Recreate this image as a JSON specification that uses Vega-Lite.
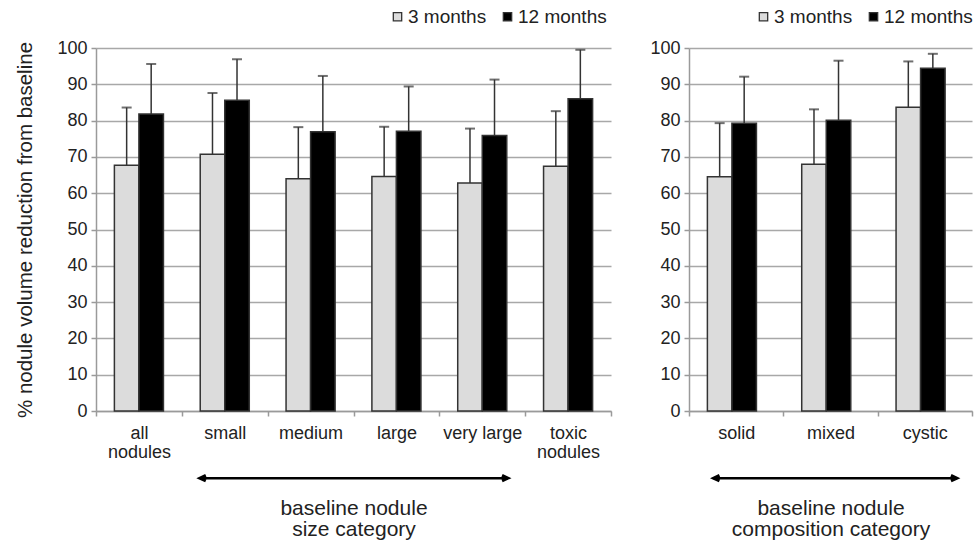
{
  "$schema": "https://vega.github.io/schema/vega-lite/v6.json",
  "background": "white",
  "padding": {"left": 15, "top": 7, "right": 2, "bottom": 4},
  "config": {
    "font": "Liberation Sans",
    "view": {"stroke": null},
    "axis": {
      "labelFont": "Liberation Sans", "titleFont": "Liberation Sans",
      "labelColor": "#222", "titleColor": "#222",
      "labelFontSize": 18, "titleFontSize": 20.5, "titleFontWeight": "normal",
      "domainColor": "#9a9a9a", "tickColor": "#9a9a9a", "gridColor": "#a8a8a8",
      "gridWidth": 1.5, "domainWidth": 1.5, "tickWidth": 1.5, "tickSize": 5
    },
    "legend": {
      "orient": "none", "direction": "horizontal", "symbolType": "square",
      "symbolSize": 70, "symbolStrokeColor": "#333", "symbolStrokeWidth": 1.3,
      "labelFontSize": 19, "labelColor": "#222", "labelFont": "Liberation Sans",
      "labelOffset": 1, "columnPadding": 11, "title": null
    }
  },
  "datasets": {
    "size": [
      {"category": "all nodules", "period": "3 months", "value": 67.7, "err": 83.6},
      {"category": "all nodules", "period": "12 months", "value": 81.8, "err": 95.6},
      {"category": "small", "period": "3 months", "value": 70.7, "err": 87.6},
      {"category": "small", "period": "12 months", "value": 85.6, "err": 96.9},
      {"category": "medium", "period": "3 months", "value": 64.0, "err": 78.2},
      {"category": "medium", "period": "12 months", "value": 76.9, "err": 92.3},
      {"category": "large", "period": "3 months", "value": 64.6, "err": 78.3},
      {"category": "large", "period": "12 months", "value": 77.1, "err": 89.4},
      {"category": "very large", "period": "3 months", "value": 62.8, "err": 77.8},
      {"category": "very large", "period": "12 months", "value": 75.9, "err": 91.3},
      {"category": "toxic nodules", "period": "3 months", "value": 67.4, "err": 82.6},
      {"category": "toxic nodules", "period": "12 months", "value": 86.0, "err": 99.5}
    ],
    "comp": [
      {"category": "solid", "period": "3 months", "value": 64.5, "err": 79.3},
      {"category": "solid", "period": "12 months", "value": 79.3, "err": 92.1},
      {"category": "mixed", "period": "3 months", "value": 68.0, "err": 83.1},
      {"category": "mixed", "period": "12 months", "value": 80.1, "err": 96.5},
      {"category": "cystic", "period": "3 months", "value": 83.7, "err": 96.3},
      {"category": "cystic", "period": "12 months", "value": 94.4, "err": 98.4}
    ],
    "sizeArrow": [{"from": "small", "to": "very large"}],
    "compArrow": [{"from": "solid", "to": "cystic"}]
  },
  "spacing": 37,
  "resolve": {"scale": {"color": "independent"}},
  "hconcat": [
    {
      "width": 515,
      "height": 363,
      "layer": [
        {
          "data": {"name": "size"},
          "mark": {"type": "bar", "stroke": "#333", "strokeWidth": 1.5},
          "encoding": {
            "x": {
              "field": "category", "type": "nominal",
              "scale": {"domain": ["all nodules", "small", "medium", "large", "very large", "toxic nodules"], "paddingInner": 0, "paddingOuter": 0},
              "axis": {
                "title": ["baseline nodule", "size category"],
                "titleFontSize": 21,
                "labelAngle": 0, "tickBand": "extent", "grid": false,
                "labelPadding": 8, "labelLineHeight": 19, "titlePadding": 36, "titleLineHeight": 21,
                "labelExpr": "datum.label == 'all nodules' ? ['all', 'nodules'] : datum.label == 'toxic nodules' ? ['toxic', 'nodules'] : datum.label"
              }
            },
            "xOffset": {"field": "period", "type": "nominal", "scale": {"domain": ["3 months", "12 months"], "paddingInner": 0, "paddingOuter": 0.75}},
            "y": {
              "field": "value", "type": "quantitative",
              "scale": {"domain": [0, 100], "nice": false},
              "axis": {"title": "% nodule volume reduction from baseline", "tickCount": 20, "values": [0, 10, 20, 30, 40, 50, 60, 70, 80, 90, 100], "labelOverlap": false, "labelPadding": 4, "titlePadding": 21}
            },
            "color": {
              "field": "period", "type": "nominal",
              "scale": {"domain": ["3 months", "12 months"], "range": ["#dcdcdc", "#000000"]},
              "legend": {"legendX": 292, "legendY": -41}
            }
          }
        },
        {
          "data": {"name": "size"},
          "mark": {"type": "rule", "stroke": "#333", "strokeWidth": 1.5},
          "encoding": {
            "x": {"field": "category", "type": "nominal"},
            "xOffset": {"field": "period", "type": "nominal"},
            "y": {"field": "value", "type": "quantitative"},
            "y2": {"field": "err"}
          }
        },
        {
          "data": {"name": "size"},
          "mark": {"type": "tick", "color": "#333", "thickness": 2, "size": 10, "orient": "horizontal"},
          "encoding": {
            "x": {"field": "category", "type": "nominal"},
            "xOffset": {"field": "period", "type": "nominal"},
            "y": {"field": "err", "type": "quantitative"}
          }
        },
        {
          "data": {"name": "sizeArrow"},
          "mark": {"type": "rule", "stroke": "#000", "strokeWidth": 2.5, "clip": false},
          "encoding": {
            "x": {"field": "from", "type": "nominal", "bandPosition": 0.21},
            "x2": {"field": "to", "bandPosition": 0.8},
            "y": {"datum": -18.5, "type": "quantitative"}
          }
        },
        {
          "data": {"name": "sizeArrow"},
          "mark": {"type": "point", "shape": "M1.7,-0.8L0,0L1.7,0.8", "filled": false, "stroke": "#000", "strokeWidth": 3, "size": 49, "opacity": 1, "clip": false},
          "encoding": {
            "x": {"field": "from", "type": "nominal", "bandPosition": 0.21},
            "y": {"datum": -18.5, "type": "quantitative"}
          }
        },
        {
          "data": {"name": "sizeArrow"},
          "mark": {"type": "point", "shape": "M-1.7,-0.8L0,0L-1.7,0.8", "filled": false, "stroke": "#000", "strokeWidth": 3, "size": 49, "opacity": 1, "clip": false},
          "encoding": {
            "x": {"field": "to", "type": "nominal", "bandPosition": 0.8},
            "y": {"datum": -18.5, "type": "quantitative"}
          }
        }
      ]
    },
    {
      "width": 283,
      "height": 363,
      "layer": [
        {
          "data": {"name": "comp"},
          "mark": {"type": "bar", "stroke": "#333", "strokeWidth": 1.5},
          "encoding": {
            "x": {
              "field": "category", "type": "nominal",
              "scale": {"domain": ["solid", "mixed", "cystic"], "paddingInner": 0, "paddingOuter": 0},
              "axis": {
                "title": ["baseline nodule", "composition category"],
                "titleFontSize": 21,
                "labelAngle": 0, "tickBand": "extent", "grid": false,
                "labelPadding": 8, "labelLineHeight": 19, "titlePadding": 55, "titleLineHeight": 21
              }
            },
            "xOffset": {"field": "period", "type": "nominal", "scale": {"domain": ["3 months", "12 months"], "paddingInner": 0, "paddingOuter": 0.75}},
            "y": {
              "field": "value", "type": "quantitative",
              "scale": {"domain": [0, 100], "nice": false},
              "axis": {"title": null, "tickCount": 20, "values": [0, 10, 20, 30, 40, 50, 60, 70, 80, 90, 100], "labelOverlap": false, "labelPadding": 4}
            },
            "color": {
              "field": "period", "type": "nominal",
              "scale": {"domain": ["3 months", "12 months"], "range": ["#dcdcdc", "#000000"]},
              "legend": {"legendX": 65, "legendY": -41}
            }
          }
        },
        {
          "data": {"name": "comp"},
          "mark": {"type": "rule", "stroke": "#333", "strokeWidth": 1.5},
          "encoding": {
            "x": {"field": "category", "type": "nominal"},
            "xOffset": {"field": "period", "type": "nominal"},
            "y": {"field": "value", "type": "quantitative"},
            "y2": {"field": "err"}
          }
        },
        {
          "data": {"name": "comp"},
          "mark": {"type": "tick", "color": "#333", "thickness": 2, "size": 10, "orient": "horizontal"},
          "encoding": {
            "x": {"field": "category", "type": "nominal"},
            "xOffset": {"field": "period", "type": "nominal"},
            "y": {"field": "err", "type": "quantitative"}
          }
        },
        {
          "data": {"name": "compArrow"},
          "mark": {"type": "rule", "stroke": "#000", "strokeWidth": 2.5, "clip": false},
          "encoding": {
            "x": {"field": "from", "type": "nominal", "bandPosition": 0.26},
            "x2": {"field": "to", "bandPosition": 0.84},
            "y": {"datum": -18.5, "type": "quantitative"}
          }
        },
        {
          "data": {"name": "compArrow"},
          "mark": {"type": "point", "shape": "M1.7,-0.8L0,0L1.7,0.8", "filled": false, "stroke": "#000", "strokeWidth": 3, "size": 49, "opacity": 1, "clip": false},
          "encoding": {
            "x": {"field": "from", "type": "nominal", "bandPosition": 0.26},
            "y": {"datum": -18.5, "type": "quantitative"}
          }
        },
        {
          "data": {"name": "compArrow"},
          "mark": {"type": "point", "shape": "M-1.7,-0.8L0,0L-1.7,0.8", "filled": false, "stroke": "#000", "strokeWidth": 3, "size": 49, "opacity": 1, "clip": false},
          "encoding": {
            "x": {"field": "to", "type": "nominal", "bandPosition": 0.84},
            "y": {"datum": -18.5, "type": "quantitative"}
          }
        }
      ]
    }
  ]
}
